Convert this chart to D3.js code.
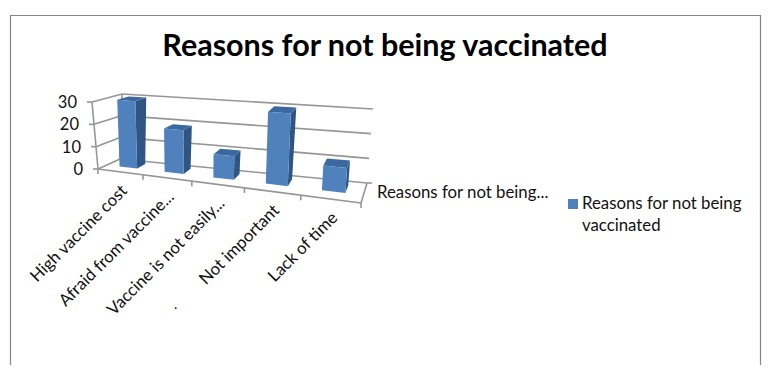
<!DOCTYPE html>
<html>
<head>
<meta charset="utf-8">
<script src="https://cdn.jsdelivr.net/npm/d3@7"></script>
<style>
  html, body { margin: 0; background: #fff; }
  svg { display: block; }
  text { font-family: Lato, "Open Sans", sans-serif; fill: #111; }
</style>
</head>
<body>
<svg id="chart" width="769" height="381"></svg>
<script>
const chartTitle = "Reasons for not being vaccinated";
const categories = ["High vaccine cost", "Afraid from vaccine...", "Vaccine is not easily...", "Not important", "Lack of time"];
const values = [30, 19, 10, 30, 10];
const yTicks = [0, 10, 20, 30];
const seriesName = "Reasons for not being...";
const legendLines = ["Reasons for not being", "vaccinated"];

const svg = d3.select("#chart");
const gridColor = "#969696";

// floor corners of the 3d box, as seen on screen
const floor = {fl: [98, 169], fr: [361, 203], br: [367, 183], bl: [120, 159]};
// how tall the full axis looks at each corner, and how far it leans sideways
const tall = {fl: 67, fr: 76, br: 74, bl: 65};
const lean = {fl: -6, fr: 5, br: 6, bl: 2};

function mix(c, u, w) {
    return c.fl * (1 - u) * (1 - w) + c.fr * u * (1 - w) + c.br * u * w + c.bl * (1 - u) * w;
}

const xScale = d3.scaleBand().domain(categories).range([0, 1]).paddingInner(0.6).paddingOuter(0.3);
const yScale = d3.scaleLinear().domain([0, 30]).range([0, 1]);
const depth = d3.scaleLinear().domain([0, 1]).range([0.4, 0.8]);

// nearer categories look a bit wider
const stretch = u => u * (0.82 + 0.18 * u);

// u along the categories, v value, w depth into the picture
function project(u, v, w) {
    const f = stretch(u), t = yScale(v);
    const x = mix({fl: floor.fl[0], fr: floor.fr[0], br: floor.br[0], bl: floor.bl[0]}, f, w);
    const y = mix({fl: floor.fl[1], fr: floor.fr[1], br: floor.br[1], bl: floor.bl[1]}, f, w);
    return [x + mix(lean, f, w) * t, y - mix(tall, f, w) * t];
}

const line = d3.line();
const poly = pts => line(pts) + "Z";

function wallLine(a, b) {
    svg.append("path").attr("d", line([a, b])).attr("fill", "none")
        .attr("stroke", gridColor).attr("stroke-width", 1.6);
}

// frame, open at the bottom
svg.append("path")
    .attr("d", "M10.5,365V15.5H760.5V365")
    .attr("fill", "none").attr("stroke", "#868686").attr("stroke-width", 1.2);

svg.append("text").attr("x", 385).attr("y", 56).attr("text-anchor", "middle")
    .attr("font-size", 30.5).attr("font-weight", 700).style("fill", "#000")
    .text(chartTitle);

// walls and gridlines
yTicks.forEach(t => {
    wallLine(project(0, t, 0), project(0, t, 1));
    wallLine(project(0, t, 1), project(1, t, 1));
    const p = project(0, t, 0);
    wallLine([p[0] - 5, p[1]], p);
    svg.append("text").attr("x", p[0] - 15).attr("y", p[1] + 6)
        .attr("text-anchor", "end").attr("font-size", 16.5).text(t);
});
wallLine(project(0, 0, 0), project(0, 30, 0));
wallLine(project(0, 0, 1), project(0, 30, 1));

// floor edges and ticks
wallLine(project(0, 0, 0), project(1, 0, 0));
wallLine(project(1, 0, 0), project(1, 0, 1));
const backEnd = project(1, 0, 1);
wallLine(backEnd, [backEnd[0] + 5, backEnd[1]]);
const tickPos = d3.range(0, categories.length + 1).map(i => i / categories.length);
tickPos.forEach(u => {
    const p = project(u, 0, 0);
    wallLine(p, [p[0], p[1] + 5]);
});

// bars
categories.forEach((c, i) => {
    const u0 = xScale(c), u1 = u0 + xScale.bandwidth();
    const w0 = depth(0), w1 = depth(1), v = values[i];
    const g = svg.append("g");
    g.append("path").attr("fill", "#2f5583")
        .attr("d", poly([project(u1, 0, w0), project(u1, 0, w1), project(u1, v, w1), project(u1, v, w0)]));
    g.append("path").attr("fill", "#3a689f")
        .attr("d", poly([project(u0, v, w0), project(u1, v, w0), project(u1, v, w1), project(u0, v, w1)]));
    g.append("path").attr("fill", "#4f81bd")
        .attr("d", poly([project(u0, 0, w0), project(u1, 0, w0), project(u1, v, w0), project(u0, v, w0)]));
});

// category labels
categories.forEach((c, i) => {
    const p = project((i + 0.5) / categories.length, 0, 0);
    svg.append("text")
        .attr("transform", `translate(${p[0] + 8},${p[1] + 20}) rotate(-45)`)
        .attr("text-anchor", "end").attr("font-size", 16.8).text(c);
});
svg.append("text").attr("x", 174).attr("y", 309).attr("font-size", 14).text(".");

// depth axis label
svg.append("text").attr("x", 377).attr("y", 198).attr("font-size", 16.8).text(seriesName);

// legend
svg.append("rect").attr("x", 568).attr("y", 199).attr("width", 10).attr("height", 10).attr("fill", "#4f81bd");
legendLines.forEach((t, i) => {
    svg.append("text").attr("x", 582).attr("y", 209 + i * 22).attr("font-size", 16.8).text(t);
});
</script>
</body>
</html>
